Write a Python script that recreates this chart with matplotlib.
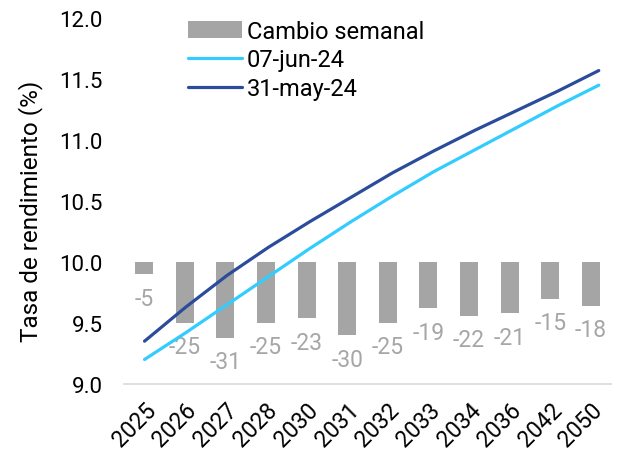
import matplotlib
matplotlib.use("Agg")
import matplotlib.pyplot as plt
import numpy as np

plt.rcParams['font.family'] = ['Roboto', 'DejaVu Sans']

categories = ["2025", "2026", "2027", "2028", "2030", "2031", "2032",
              "2033", "2034", "2036", "2042", "2050"]
cambio_semanal = [-5, -25, -31, -25, -23, -30, -25, -19, -22, -21, -15, -18]
tasa_07jun24 = [9.20, 9.42, 9.65, 9.88, 10.11, 10.33, 10.54, 10.74, 10.92, 11.10, 11.28, 11.45]
tasa_31may24 = [9.35, 9.63, 9.89, 10.12, 10.33, 10.53, 10.73, 10.91, 11.08, 11.24, 11.40, 11.57]
yticks = [9.0, 9.5, 10.0, 10.5, 11.0, 11.5, 12.0]

c_bar = '#A5A5A5'
c_light = '#33CCFF'
c_dark = '#2B4C9B'

fig = plt.figure(figsize=(6.32, 4.56), dpi=100)
ax = fig.add_axes([0.196, 0.156, 0.771, 0.802])
x = np.arange(len(categories))

# bars on a hidden secondary y axis (bps), zero aligned with 10.0
axb = ax.twinx()
bars = axb.bar(x, cambio_semanal, width=0.44, color=c_bar, label='Cambio semanal', zorder=1)
axb.set_ylim(-50, 100)
axb.set_xlim(-0.5, len(categories) - 0.5)
axb.bar_label(bars, labels=[str(v) for v in cambio_semanal], padding=9,
              color='#A6A6A6', fontsize=16.5)
axb.axis('off')

# lines on a secondary x axis sharing the main y axis
axl = ax.twiny()
l1, = axl.plot(x, tasa_07jun24, color=c_light, lw=2.3, solid_capstyle='round',
               solid_joinstyle='round', label='07-jun-24')
l2, = axl.plot(x, tasa_31may24, color=c_dark, lw=2.3, solid_capstyle='round',
               solid_joinstyle='round', label='31-may-24')
axl.set_xlim(-0.5, 11.3)
axl.axis('off')

ax.set_xlim(-0.5, len(categories) - 0.5)
ax.set_ylim(9.0, 12.0)
ax.set_yticks(yticks)
ax.set_yticklabels([f"{v:.1f}" for v in yticks], fontsize=16)
ax.set_xticks(x)
ax.set_xticklabels(categories, rotation=45, ha='right', rotation_mode='anchor', fontsize=16.5)
ax.tick_params(axis='y', length=0, pad=15)
ax.tick_params(axis='x', length=0, pad=10)
for s in ['top', 'right', 'left']:
    ax.spines[s].set_visible(False)
ax.spines['bottom'].set_color('#D9D9D9')
ax.spines['bottom'].set_linewidth(1.2)
ax.set_ylabel('Tasa de rendimiento (%)', fontsize=17.5)
ax.yaxis.set_label_coords(-0.166, 0.475)

fig.legend([bars, l1, l2], ['Cambio semanal', '07-jun-24', '31-may-24'],
           loc='upper left', bbox_to_anchor=(0.297, 0.955), frameon=False,
           fontsize=17, handlelength=2.3, handletextpad=0.2, labelspacing=0.25,
           borderpad=0, borderaxespad=0)

fig.savefig('out.png', dpi=100)
